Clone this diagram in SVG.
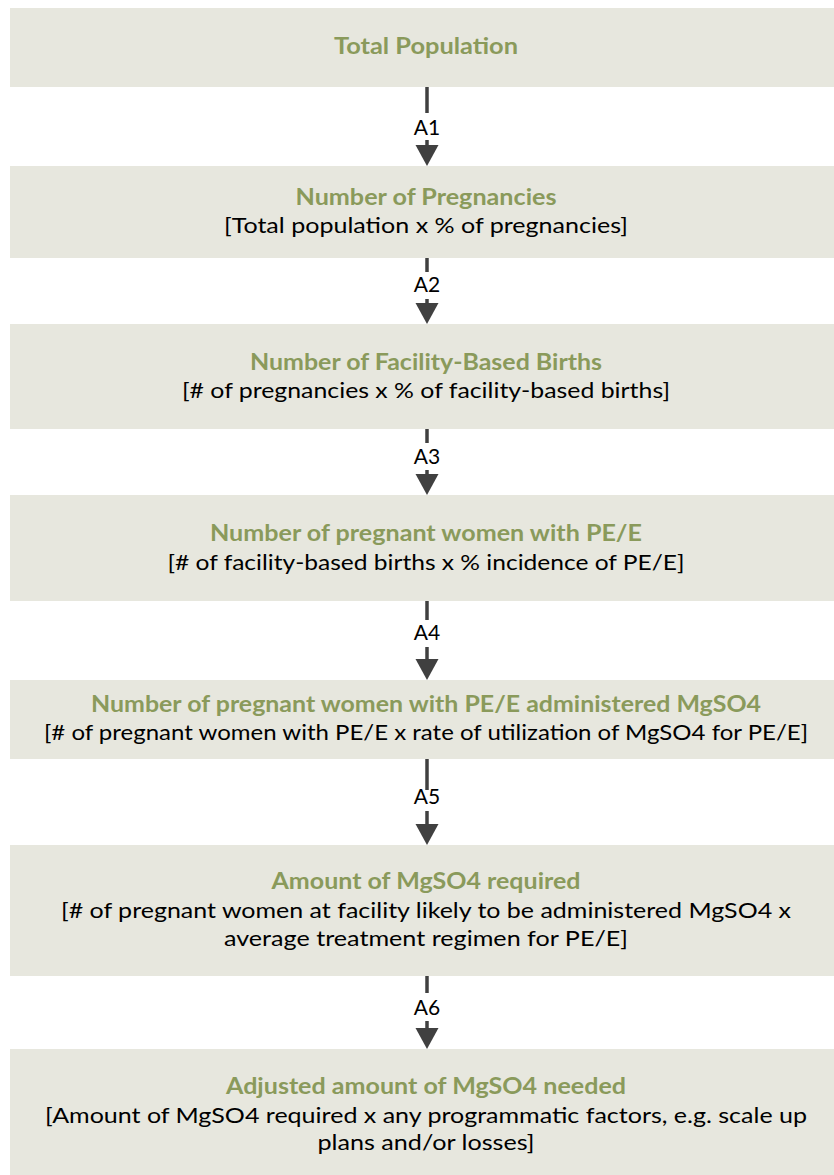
<svg xmlns="http://www.w3.org/2000/svg" width="834" height="1175" viewBox="0 0 834 1175">
<style>
.box{fill:#E7E7DE}
.t{font-family:Lato,"Open Sans","Liberation Sans",sans-serif;font-size:22px;font-weight:bold;fill:#8A9A5B;text-anchor:middle}
.s{font-family:Lato,"Open Sans","Liberation Sans",sans-serif;font-size:22px;fill:#000;text-anchor:middle}
.l{font-family:Lato,"Open Sans","Liberation Sans",sans-serif;font-size:21px;fill:#000;text-anchor:middle}
.c{stroke:#404040;stroke-width:3.5;fill:none}
.h{fill:#404040}
</style>
<g id="n1"><rect class="box" x="10" y="8" width="830" height="79"/><text class="t" x="426" y="54" textLength="184" lengthAdjust="spacingAndGlyphs">Total Population</text></g>
<g id="n2"><rect class="box" x="10" y="166" width="830" height="92"/><text class="t" x="426" y="205" textLength="261" lengthAdjust="spacingAndGlyphs">Number of Pregnancies</text><text class="s" x="426" y="233" textLength="404" lengthAdjust="spacingAndGlyphs">[Total population x % of pregnancies]</text></g>
<g id="n3"><rect class="box" x="10" y="324" width="830" height="105"/><text class="t" x="426" y="370" textLength="352" lengthAdjust="spacingAndGlyphs">Number of Facility-Based Births</text><text class="s" x="426" y="398" textLength="488" lengthAdjust="spacingAndGlyphs">[# of pregnancies x % of facility-based births]</text></g>
<g id="n4"><rect class="box" x="10" y="495" width="830" height="106"/><text class="t" x="426" y="541" textLength="432" lengthAdjust="spacingAndGlyphs">Number of pregnant women with PE/E</text><text class="s" x="426" y="570" textLength="517" lengthAdjust="spacingAndGlyphs">[# of facility-based births x % incidence of PE/E]</text></g>
<g id="n5"><rect class="box" x="10" y="680" width="830" height="79"/><text class="t" x="426" y="712" textLength="670" lengthAdjust="spacingAndGlyphs">Number of pregnant women with PE/E administered MgSO4</text><text class="s" x="426" y="740" textLength="764" lengthAdjust="spacingAndGlyphs">[# of pregnant women with PE/E x rate of utilization of MgSO4 for PE/E]</text></g>
<g id="n6"><rect class="box" x="10" y="845" width="830" height="131"/><text class="t" x="426" y="889" textLength="309" lengthAdjust="spacingAndGlyphs">Amount of MgSO4 required</text><text class="s" x="426" y="918" textLength="730" lengthAdjust="spacingAndGlyphs">[# of pregnant women at facility likely to be administered MgSO4 x</text><text class="s" x="426" y="946" textLength="404" lengthAdjust="spacingAndGlyphs">average treatment regimen for PE/E]</text></g>
<g id="n7"><rect class="box" x="10" y="1049" width="830" height="126"/><text class="t" x="426" y="1094" textLength="400" lengthAdjust="spacingAndGlyphs">Adjusted amount of MgSO4 needed</text><text class="s" x="426" y="1123" textLength="762" lengthAdjust="spacingAndGlyphs">[Amount of MgSO4 required x any programmatic factors, e.g. scale up</text><text class="s" x="426" y="1150" textLength="217" lengthAdjust="spacingAndGlyphs">plans and/or losses]</text></g>
<g id="connectors">
<line class="c" x1="427" y1="87" x2="427" y2="113"/><text class="l" x="427" y="135">A1</text><line class="c" x1="427" y1="140" x2="427" y2="148"/><path class="h" d="M415.5,145 L438.5,145 L427,166 Z"/>
<line class="c" x1="427" y1="258" x2="427" y2="272"/><text class="l" x="427" y="292">A2</text><line class="c" x1="427" y1="299" x2="427" y2="306"/><path class="h" d="M415.5,303 L438.5,303 L427,324 Z"/>
<line class="c" x1="427" y1="429" x2="427" y2="443"/><text class="l" x="427" y="464">A3</text><line class="c" x1="427" y1="470" x2="427" y2="477"/><path class="h" d="M415.5,474 L438.5,474 L427,495 Z"/>
<line class="c" x1="427" y1="601" x2="427" y2="620"/><text class="l" x="427" y="640">A4</text><line class="c" x1="427" y1="647" x2="427" y2="662"/><path class="h" d="M415.5,659 L438.5,659 L427,680 Z"/>
<line class="c" x1="427" y1="759" x2="427" y2="790"/><text class="l" x="427" y="804">A5</text><line class="c" x1="427" y1="811" x2="427" y2="827"/><path class="h" d="M415.5,824 L438.5,824 L427,845 Z"/>
<line class="c" x1="427" y1="976" x2="427" y2="993"/><text class="l" x="427" y="1015">A6</text><line class="c" x1="427" y1="1021" x2="427" y2="1031"/><path class="h" d="M415.5,1028 L438.5,1028 L427,1049 Z"/>
</g>
</svg>
